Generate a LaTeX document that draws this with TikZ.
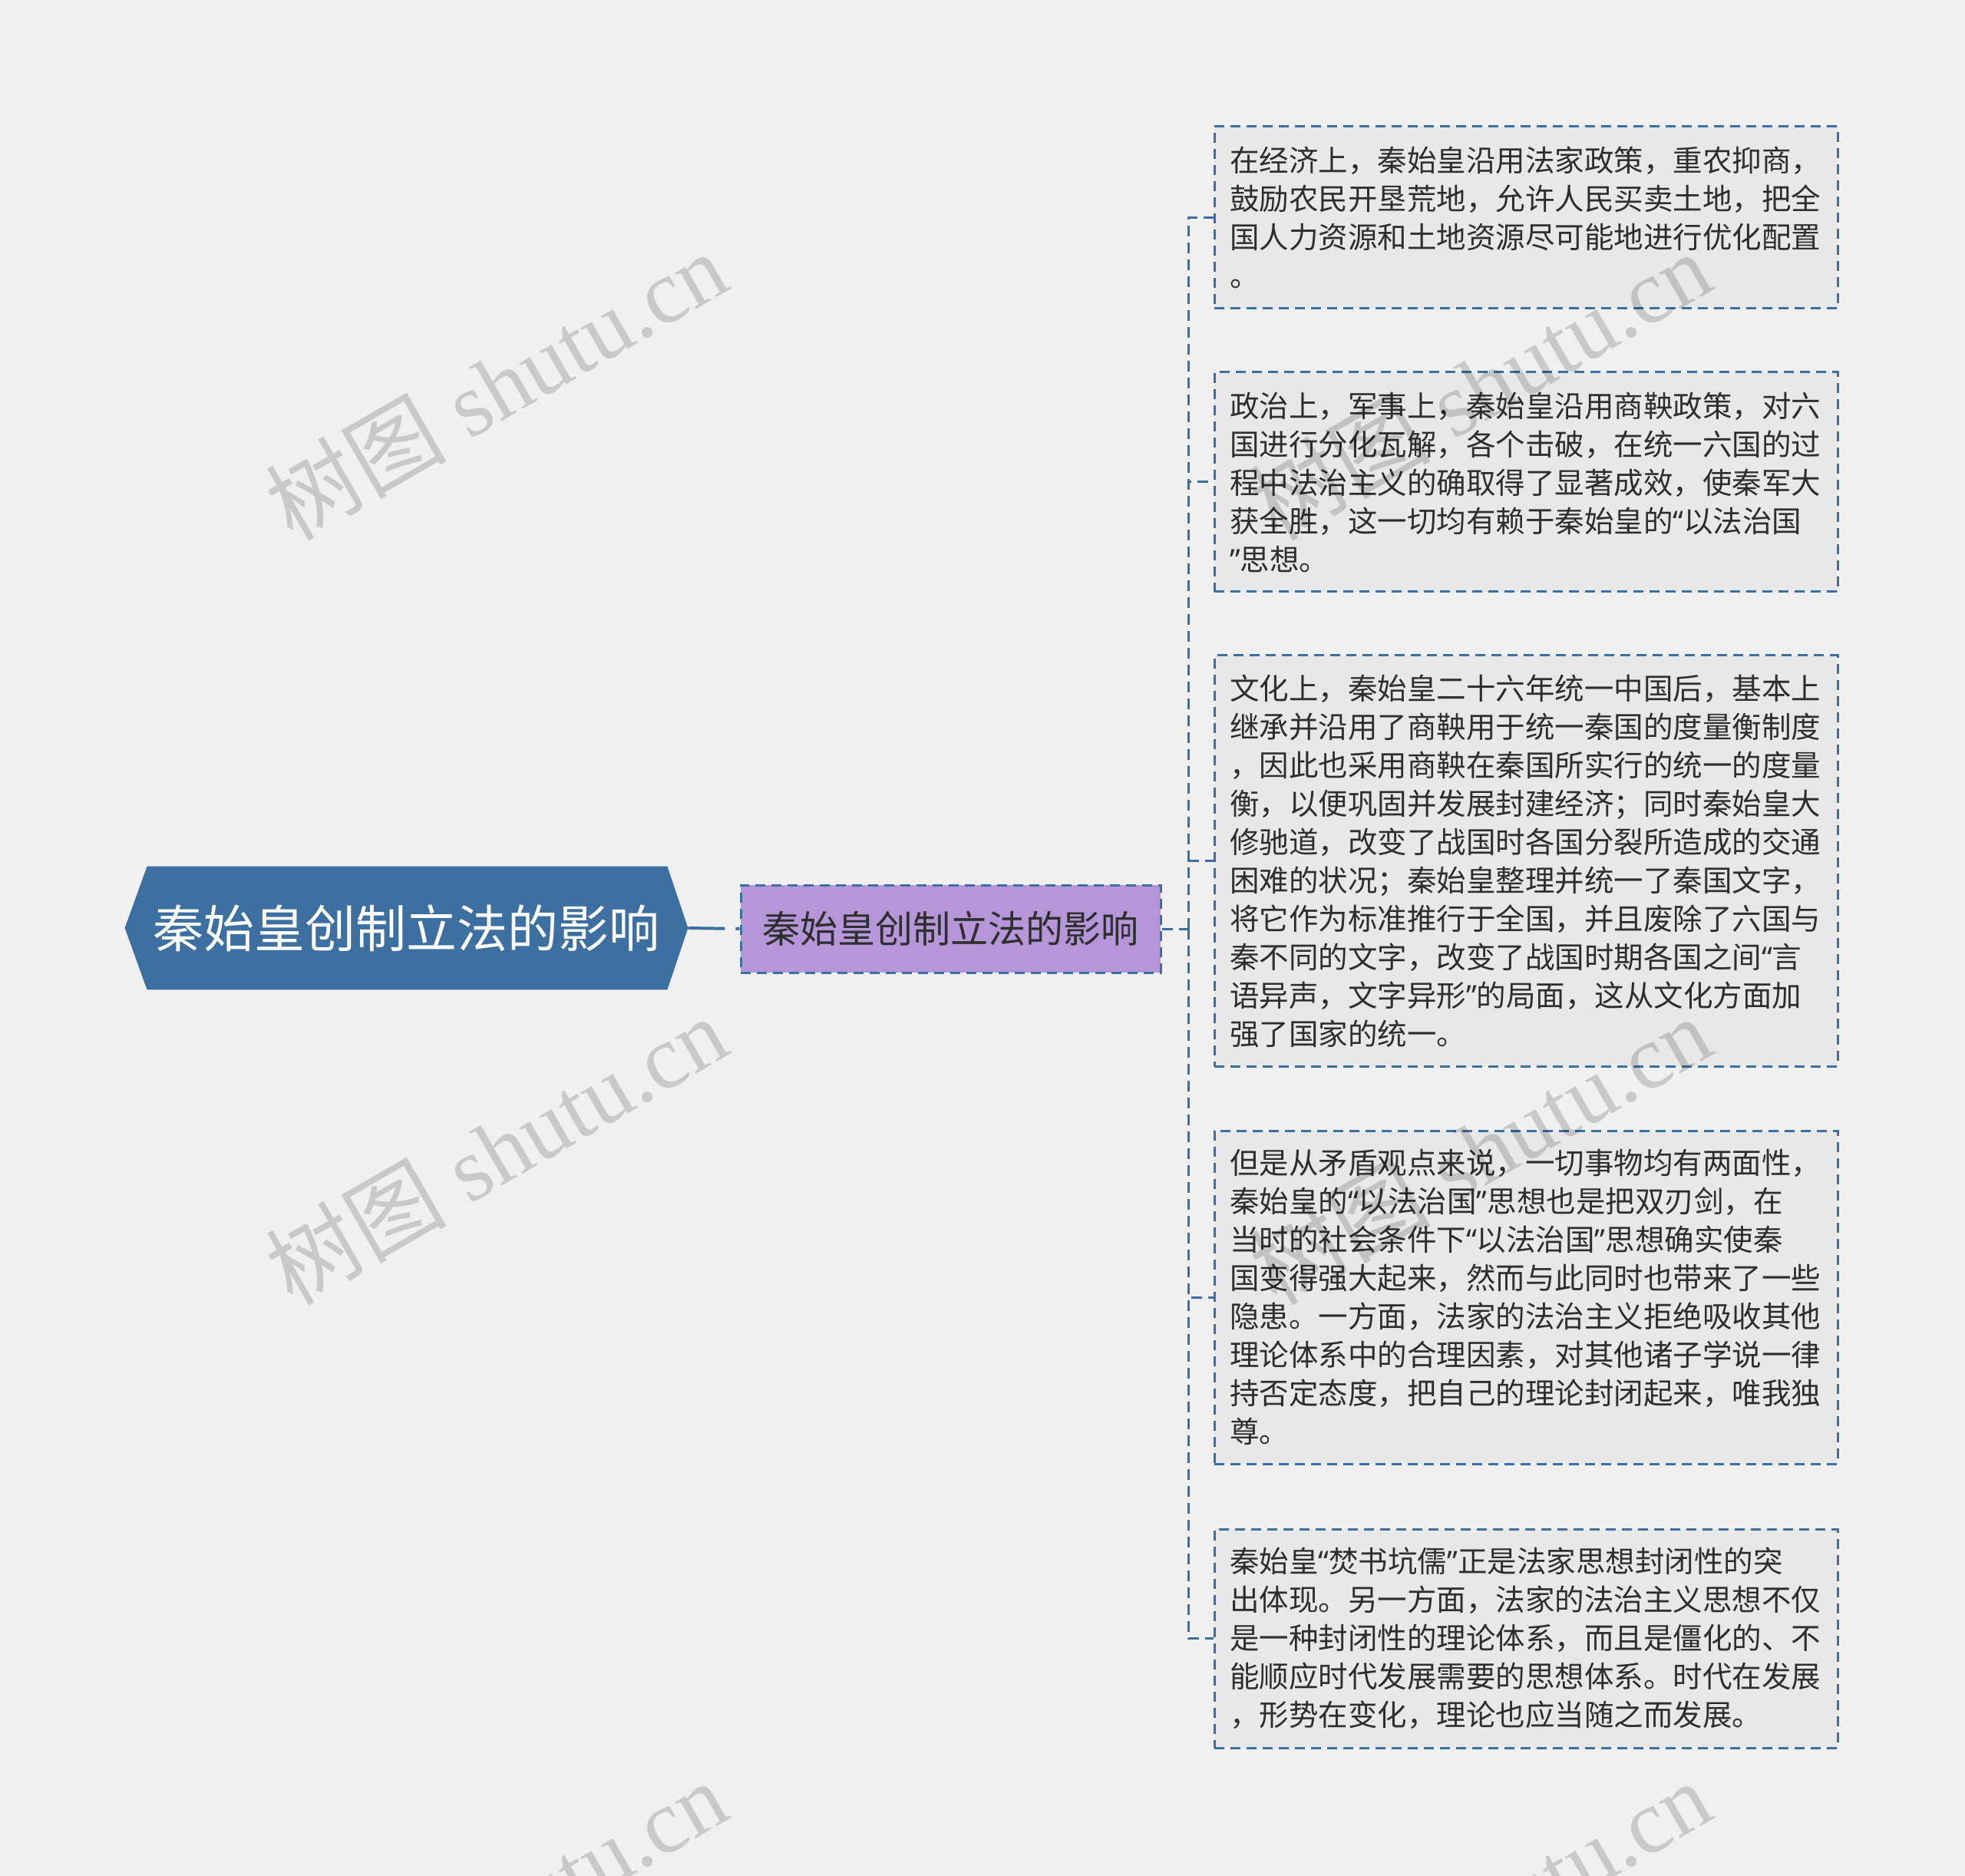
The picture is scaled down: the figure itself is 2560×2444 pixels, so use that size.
\documentclass[tikz,border=0pt]{standalone}
\usepackage{fontspec}
\setmainfont{Noto Sans CJK SC}
\newfontfamily\wmcjk{Noto Sans CJK SC}
\newfontfamily\wmlat{Liberation Serif}
\newfontfamily\qfont{Noto Sans}
\newcommand\oq{{\qfont “}}
\newcommand\cq{{\qfont ”}}
\definecolor{bgc}{HTML}{F0F0F0}
\definecolor{rootc}{HTML}{3D6FA0}
\definecolor{linec}{HTML}{3D6FA0}
\definecolor{midc}{HTML}{B597D9}
\definecolor{leafc}{HTML}{E8E8E8}
\definecolor{txtc}{HTML}{2E2E2E}
\pgfdeclarelayer{background}
\pgfsetlayers{background,main}
\tikzset{
  rootbox/.style={inner sep=0pt, minimum width=366.5pt, minimum height=80pt,
    text=white, font=\fontsize{33pt}{40pt}\selectfont},
  midbox/.style={draw=linec, line width=1.5pt, dash pattern=on 6.5pt off 4pt,
    fill=midc, inner sep=0pt, minimum width=273.5pt, minimum height=57pt,
    text=txtc, font=\fontsize{24.5pt}{30pt}\selectfont},
  leafbox/.style={draw=linec, line width=1.5pt, dash pattern=on 6.5pt off 4pt,
    fill=leafc, inner xsep=10pt, inner ysep=0pt, text width=386pt, align=left,
    text=txtc, font=\fontsize{19.25pt}{25pt}\selectfont},
  rootlink/.style={draw=linec, line width=2pt, dash pattern=on 24pt off 7pt},
  conn/.style={draw=linec, line width=1.5pt, dash pattern=on 7pt off 4pt},
  wm/.style={text=black, text opacity=0.16, rotate=30, inner sep=0pt,
    font=\wmlat\fontsize{59pt}{64pt}\selectfont}
}
\begin{document}
\begin{tikzpicture}[x=0.5pt,y=-0.5pt]
\begin{pgfonlayer}{background}
\fill[bgc] (0,0) rectangle (2560,2444);
\end{pgfonlayer}
\useasboundingbox (0,0) rectangle (2560,2444);
\clip (0,0) rectangle (2560,2444);

% root
\node[rootbox] (root) at (529.5,1209) {秦始皇创制立法的影响};
\begin{pgfonlayer}{background}
\fill[rootc] ([xshift=14.5pt]root.north west) -- ([xshift=-13.5pt]root.north east)
  -- (root.east) -- ([xshift=-13.5pt]root.south east)
  -- ([xshift=14.5pt]root.south west) -- (root.west) -- cycle;
\end{pgfonlayer}

% middle
\node[midbox] (mid) at (1238.5,1210) {秦始皇创制立法的影响};

% leaves
\node[leafbox, minimum height=118.5pt] (b1) at (1988,283.5) {在经济上，秦始皇沿用法家政策，重农抑商，\\鼓励农民开垦荒地，允许人民买卖土地，把全\\国人力资源和土地资源尽可能地进行优化配置\\。};
\node[leafbox, minimum height=143pt] (b2) at (1988,628) {政治上，军事上，秦始皇沿用商鞅政策，对六\\国进行分化瓦解，各个击破，在统一六国的过\\程中法治主义的确取得了显著成效，使秦军大\\获全胜，这一切均有赖于秦始皇的\oq 以法治国\\\cq 思想。};
\node[leafbox, minimum height=267.5pt] (b3) at (1988,1121.5) {文化上，秦始皇二十六年统一中国后，基本上\\继承并沿用了商鞅用于统一秦国的度量衡制度\\，因此也采用商鞅在秦国所实行的统一的度量\\衡，以便巩固并发展封建经济；同时秦始皇大\\修驰道，改变了战国时各国分裂所造成的交通\\困难的状况；秦始皇整理并统一了秦国文字，\\将它作为标准推行于全国，并且废除了六国与\\秦不同的文字，改变了战国时期各国之间\oq 言\\语异声，文字异形\cq 的局面，这从文化方面加\\强了国家的统一。};
\node[leafbox, minimum height=217pt] (b4) at (1988,1690) {但是从矛盾观点来说，一切事物均有两面性，\\秦始皇的\oq 以法治国\cq 思想也是把双刃剑，在\\当时的社会条件下\oq 以法治国\cq 思想确实使秦\\国变得强大起来，然而与此同时也带来了一些\\隐患。一方面，法家的法治主义拒绝吸收其他\\理论体系中的合理因素，对其他诸子学说一律\\持否定态度，把自己的理论封闭起来，唯我独\\尊。};
\node[leafbox, minimum height=142.5pt] (b5) at (1988,2134.5) {秦始皇\oq 焚书坑儒\cq 正是法家思想封闭性的突\\出体现。另一方面，法家的法治主义思想不仅\\是一种封闭性的理论体系，而且是僵化的、不\\能顺应时代发展需要的思想体系。时代在发展\\，形势在变化，理论也应当随之而发展。};

% connectors
\draw[rootlink] (root.east) -- (mid.west);
\coordinate (trunk) at (1548,1210);
\draw[conn] (mid.east) -- (trunk);
\foreach \b in {b1,b2,b3,b4,b5}{
  \draw[conn] (trunk) |- (\b.west);
}

% watermarks
\foreach \wx in {646,1928}{
  \foreach \wy in {502,1498,2494}{
    \node[wm] (wm-\wx-\wy) at (\wx,\wy) {{\wmcjk 树图} shutu.cn};
  }
}
\end{tikzpicture}
\end{document}
